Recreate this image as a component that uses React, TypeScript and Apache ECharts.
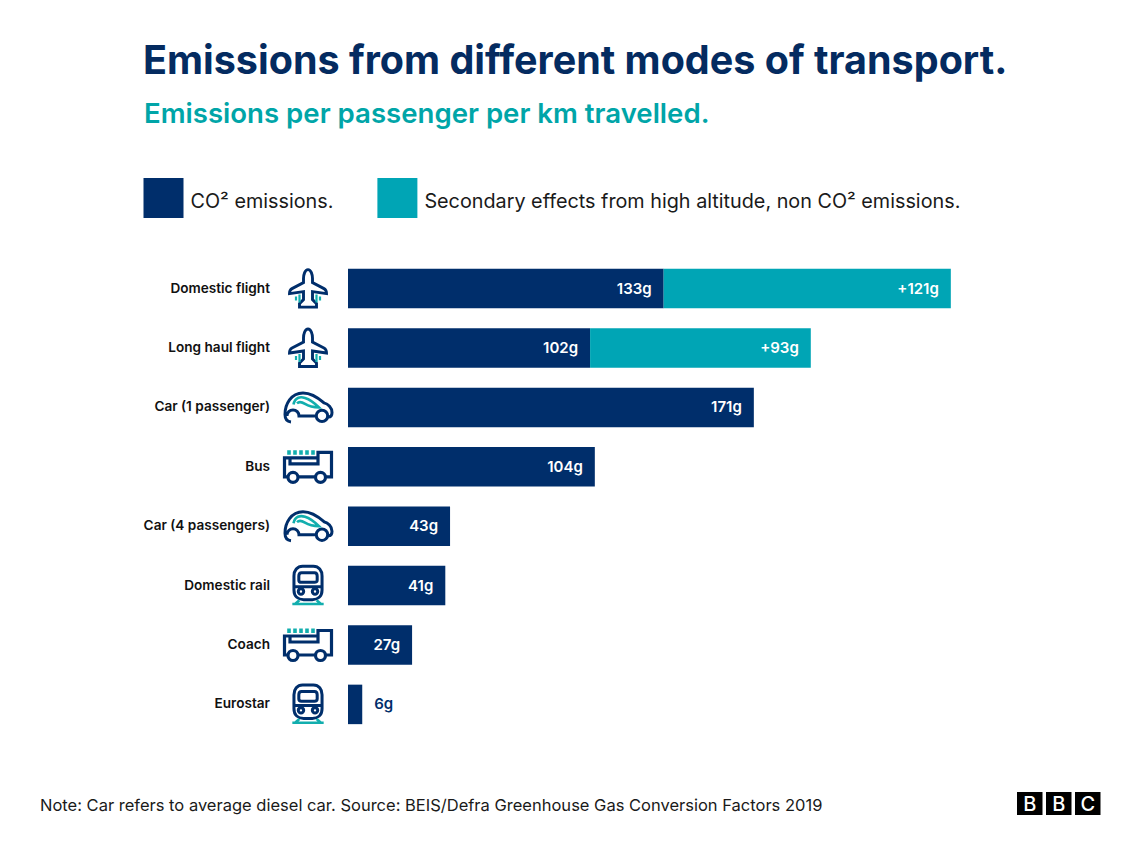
import React, { useEffect, useRef } from "react";
import * as echarts from "echarts";

const NAVY = "#002e6b";
const TEAL = "#00a5b5";
const ICON_TEAL = "#12aeae";
const FONT = "Inter, Lato, sans-serif";

const categories = ["Domestic flight", "Long haul flight", "Car (1 passenger)", "Bus", "Car (4 passengers)", "Domestic rail", "Coach", "Eurostar"];
const co2Values = [133, 102, 171, 104, 43, 41, 27, 6];
const secondaryValues = [121, 93, null, null, null, null, null, null];
const iconNames = ["plane", "plane", "car", "bus", "car", "train", "bus", "train"];
const seriesNames = ["CO² emissions.", "Secondary effects from high altitude, non CO² emissions."];
const titleText = "Emissions from different modes of transport.";
const subtitleText = "Emissions per passenger per km travelled.";
const noteText = "Note: Car refers to average diesel car. Source: BEIS/Defra Greenhouse Gas Conversion Factors 2019";
const logoLetters = ["B", "B", "C"];

const shapes: Record<string, string> = {
  planeN: "M0 -19 C-3 -19 -4.5 -14 -4.5 -10 V-6 L-16 0 C-18 1 -18.5 3 -18.5 5 L-4.5 3 V11 L-8.5 15 V18.5 H8.5 V15 L4.5 11 V3 L18.5 5 C18.5 3 18 1 16 0 L4.5 -6 V-10 C4.5 -14 3 -19 0 -19 Z",
  planeT: "M-12 8 V12 M-8.5 6 V14 M8.5 6 V14 M12 8 V12",
  carN: "M-17 14.5 C-21 14 -23 11 -23 7 C-23 -3 -17 -14.5 -5 -14.5 C4 -14.5 11 -9 16 -4.5 C20 -3.5 24 0 24 5 C24 8 22.5 9.5 20.5 9.5 M-21 8.5 A6 6 0 0 1 -9 8.5 H8 M19.7 8.5 A5.7 5.7 0 1 1 8.3 8.5 A5.7 5.7 0 1 1 19.7 8.5",
  carT: "M-14.5 -3 C-13 -10 -8 -11 -3 -9.5 C2 -8 7 -4 11 0 C6 0 1 -1 -3 -3.5 C-7 -6 -9 -6 -11 -4",
  busN: "M-19 10 H-23.5 V-9 H10 V-14.5 H23.5 V10 H17.5 M-10 10 H8 M-18 -9 V-3 H10 V-9 M-10 10.5 A5 5 0 1 1 -20 10.5 A5 5 0 1 1 -10 10.5 M17.5 10.5 A5 5 0 1 1 7.5 10.5 A5 5 0 1 1 17.5 10.5",
  busT: "M-19 -16.5 V-12 M-13 -16.5 V-12 M-7 -16.5 V-12 M-1 -16.5 V-12 M5 -16.5 V-12",
  trainN: "M-5 -18 H5 C10 -18 13 -14 13 -9 V4 C13 10 9 13 4 13 H-4 C-9 13 -13 10 -13 4 V-9 C-13 -14 -10 -18 -5 -18 Z M-6 -12 H6 C7.5 -12 8.5 -11 8.5 -9 V-5 C8.5 -3.5 7.5 -3 6 -3 H-6 C-7.5 -3 -8.5 -3.5 -8.5 -5 V-9 C-8.5 -11 -7.5 -12 -6 -12 Z M-12.5 1 H12.5 M-4 5.5 A2.5 2.5 0 1 1 -9 5.5 A2.5 2.5 0 1 1 -4 5.5 M9 5.5 A2.5 2.5 0 1 1 4 5.5 A2.5 2.5 0 1 1 9 5.5",
  trainT: "M-14.5 17 H14.5 M-8 13.5 L-12 17 M8 13.5 L12 17",
};
Object.keys(shapes).forEach((k) => {
  echarts.graphic.registerShape(k, echarts.graphic.extendPath(shapes[k], {}) as any);
});

const iconStroke: Record<string, number> = { plane: 2.9, car: 3, bus: 3.2, train: 2.8 };
const iconTealStroke: Record<string, number> = { plane: 2.2, car: 2.6, bus: 3.6, train: 2.4 };
const iconScale: Record<string, number> = { plane: 1, car: 1, bus: 1, train: 1.08 };

function renderIcon(params: any, api: any) {
  const idx = api.value(1);
  const name = iconNames[idx];
  const origin = api.coord([0, idx]);
  return {
    type: "group",
    x: origin[0] - 40,
    y: origin[1],
    scaleX: iconScale[name],
    scaleY: iconScale[name],
    children: [
      { type: name + "N", style: { fill: "none", stroke: NAVY, lineWidth: iconStroke[name] } },
      { type: name + "T", style: { fill: "none", stroke: ICON_TEAL, lineWidth: iconTealStroke[name] } },
    ],
  };
}

export default function App() {
  const ref = useRef<HTMLDivElement>(null);
  useEffect(() => {
    const chart = echarts.init(ref.current!, undefined, { renderer: "svg" });
    const barLabel = {
      show: true,
      position: "insideRight",
      distance: 12,
      offset: [0, -0.5],
      fontFamily: FONT,
      fontSize: 15,
      fontWeight: 600,
      color: "#ffffff",
    };
    chart.setOption({
      animation: false,
      backgroundColor: "#ffffff",
      title: [
        { text: titleText, left: 143, top: 40, padding: 0, textStyle: { fontFamily: FONT, fontSize: 39.5, fontWeight: 700, color: "#042b60" } },
        { text: subtitleText, left: 144, top: 99, padding: 0, textStyle: { fontFamily: FONT, fontSize: 27.6, fontWeight: 600, color: "#00a5a8" } },
        { text: noteText, left: 40, top: 796, padding: 0, textStyle: { fontFamily: FONT, fontSize: 16.5, fontWeight: 400, color: "#1a1a1a" } },
      ],
      legend: {
        left: 143.5,
        top: 178,
        padding: 0,
        itemWidth: 40,
        itemHeight: 40,
        itemGap: 44,
        icon: "rect",
        data: seriesNames,
        selectedMode: false,
        formatter: (name: string) => `{t|${name}}`,
        textStyle: {
          fontFamily: FONT,
          fontSize: 19.8,
          color: "#1a1a1a",
          rich: { t: { fontFamily: FONT, fontSize: 19.8, color: "#1a1a1a", padding: [6, 0, 0, 2] } },
        },
      },
      grid: { left: 348, top: 258.9, width: 712, height: 475.2, containLabel: false },
      xAxis: { type: "value", min: 0, max: 300, show: false },
      yAxis: {
        type: "category",
        inverse: true,
        data: categories,
        axisLine: { show: false },
        axisTick: { show: false },
        axisLabel: {
          margin: 78,
          fontFamily: FONT,
          fontSize: 13.6,
          fontWeight: 600,
          color: "#111111",
          formatter: (v: string) => `{a|${v}}`,
          rich: { a: { fontFamily: FONT, fontSize: 13.6, fontWeight: 600, color: "#111111", padding: [0, 0, 2, 0] } },
        },
      },
      series: [
        {
          name: seriesNames[0],
          type: "bar",
          stack: "total",
          barWidth: 39.5,
          itemStyle: { color: NAVY },
          data: co2Values.map((v) =>
            v < 10
              ? { value: v, label: { position: "right", distance: 12, color: NAVY } }
              : { value: v }
          ),
          label: { ...barLabel, formatter: "{c}g" },
        },
        {
          name: seriesNames[1],
          type: "bar",
          stack: "total",
          barWidth: 39.5,
          itemStyle: { color: TEAL },
          data: secondaryValues,
          label: { ...barLabel, formatter: "+{c}g" },
        },
        {
          type: "custom",
          silent: true,
          renderItem: renderIcon,
          data: iconNames.map((_, i) => [0, i]),
          encode: { x: 0, y: 1 },
          clip: false,
        },
      ],
      graphic: [
        {
          type: "group",
          x: 1017,
          y: 792,
          children: logoLetters.flatMap((l, i) => [
            { type: "rect", shape: { x: i * 29, y: 0, width: 25.5, height: 23 }, style: { fill: "#000000" } },
            {
              type: "text",
              x: i * 29 + 12.75,
              y: 11.5,
              style: { text: l, fill: "#ffffff", font: "500 20px Inter, sans-serif", textAlign: "center", textVerticalAlign: "middle" },
            },
          ]),
        },
      ],
    });
    return () => chart.dispose();
  }, []);
  return <div ref={ref} style={{ position: "absolute", left: 0, top: 0, width: 1140, height: 855 }} />;
}
